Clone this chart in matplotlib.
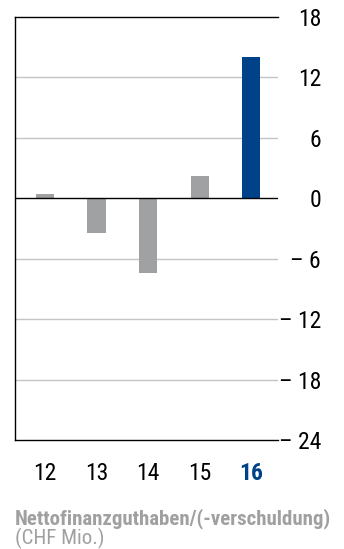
import matplotlib.pyplot as plt
from matplotlib import font_manager as fm

years = ["12", "13", "14", "15", "16"]
values = [0.4, -3.4, -7.4, 2.2, 14.0]
bar_colors = ["#a0a1a3", "#a0a1a3", "#a0a1a3", "#a0a1a3", "#00428a"]
yticks = [18, 12, 6, 0, -6, -12, -18, -24]
ytick_labels = ["18", "12", "6", "0", "– 6", "– 12", "– 18", "– 24"]

# look for a narrow face, the original uses a condensed grotesque
fonts = fm.fontManager.ttflist
names = {f.name for f in fonts}
family = "Liberation Sans"
stretch = "normal"
for cand in ["Liberation Sans Narrow", "Roboto Condensed", "Open Sans Condensed"]:
    if cand in names:
        family = cand
        break
else:
    for f in fonts:
        if f.name == "Noto Sans" and f.stretch in ("condensed", "semi-condensed", "extra-condensed"):
            family = "Noto Sans"
            stretch = "condensed"
            break

plt.rcParams['font.family'] = [family, 'DejaVu Sans']
plt.rcParams['font.stretch'] = stretch

fig = plt.figure(figsize=(3.44, 5.49), dpi=100)
ax = fig.add_axes([15 / 344, 109 / 549, 263 / 344, 423 / 549])

x = list(range(len(years)))
ax.bar(x, values, width=0.35, color=bar_colors, zorder=3)

ax.set_ylim(-24, 18)
ax.set_xlim(-0.58, 4.52)

for t in yticks:
    if t in (18, -24):
        continue
    if t == 0:
        ax.axhline(0, color="black", lw=1.0, zorder=4)
    else:
        ax.axhline(t, color="#c4c4c4", lw=1.0, zorder=1)

ax.yaxis.tick_right()
ax.set_yticks(yticks)
ax.set_yticklabels(ytick_labels, fontsize=17, ha="right")
ax.tick_params(axis="y", length=0, pad=31)

ax.set_xticks(x)
ax.set_xticklabels(years, fontsize=17)
ax.tick_params(axis="x", length=0, pad=16)
last = ax.get_xticklabels()[-1]
last.set_color("#00428a")
last.set_fontweight("bold")

ax.spines["right"].set_visible(False)
for s in ("left", "top", "bottom"):
    ax.spines[s].set_color("black")
    ax.spines[s].set_linewidth(1.0)

title = fig.text(15 / 344, 1 - 519 / 549, "Nettofinanzguthaben/(-verschuldung)",
                 fontsize=13, fontweight="bold", color="#a0a0a0", va="center")
sub = fig.text(15 / 344, 1 - 538 / 549, "(CHF Mio.)",
               fontsize=13, color="#a0a0a0", va="center")

# scale the caption so it spans the same width as in the original
renderer = fig.canvas.get_renderer()
w = title.get_window_extent(renderer).width
size = 13 * 315 / w
title.set_fontsize(size)
sub.set_fontsize(size)

fig.savefig("out.png", dpi=100)
